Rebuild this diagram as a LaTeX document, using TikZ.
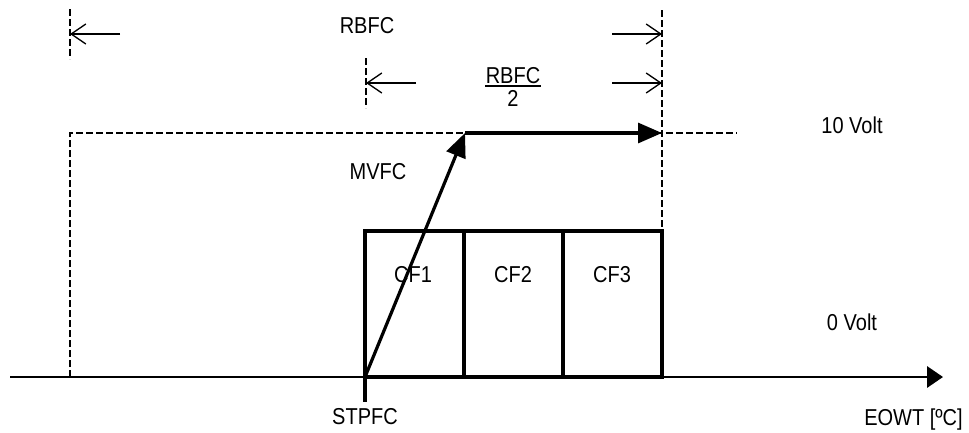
\documentclass[tikz,border=0pt]{standalone}
\usepackage{fontspec}
\setmainfont{Liberation Sans}
\usetikzlibrary{arrows.meta}
\newcommand\tallt[1]{\scalebox{1}[1.15]{#1}}
\begin{document}
\begin{tikzpicture}[x=0.75pt,y=-0.75pt,
  lbl/.style={font=\fontsize{15}{18}\selectfont, inner sep=0pt},
  dimline/.style={line width=0.8pt, -{Straight Barb[length=11pt,width=15pt,line width=1pt]}},
  dashln/.style={line width=1.5pt, dash pattern=on 5pt off 2.5pt},
  boxln/.style={line width=2.4pt},
  axisln/.style={line width=1.6pt, -{Triangle[length=12pt,width=16pt]}},
  bigarrow/.style={line width=2.4pt, -{Triangle[length=18pt,width=15pt]}},
]
\useasboundingbox (0,0) rectangle (969,432);

% coordinates
\coordinate (ax0) at (10,377);
\coordinate (ax1) at (943,377);
\coordinate (st) at (365,377);
\coordinate (stb) at (365,402);
\coordinate (b1) at (464,231);
\coordinate (b1b) at (464,377);
\coordinate (b2) at (563,231);
\coordinate (b2b) at (563,377);
\coordinate (btr) at (662,231);
\coordinate (top) at (465,133);
\coordinate (topr) at (662,133);
\coordinate (dl0) at (70,377);
\coordinate (dl1) at (737,133);
\coordinate (rv0) at (662,10);
\coordinate (lv0) at (70,9);
\coordinate (lv1) at (70,59);
\coordinate (mv0) at (366,58);
\coordinate (mv1) at (366,108);
\coordinate (a1s) at (120,34);
\coordinate (a1e) at (70,34);
\coordinate (a2s) at (612,34);
\coordinate (a2e) at (662,34);
\coordinate (a3s) at (416,83);
\coordinate (a3e) at (366,83);
\coordinate (a4s) at (612,83);
\coordinate (a4e) at (662,83);
\coordinate (fr0) at (485,86);
\coordinate (fr1) at (541,86);

% dashed lines
\draw[dashln] (dl0) |- (dl1);
\draw[dashln] (rv0) -- (btr);
\draw[dashln] (lv0) -- (lv1);
\draw[dashln] (mv0) -- (mv1);

% dimension arrows
\draw[dimline] (a1s) -- (a1e);
\draw[dimline] (a2s) -- (a2e);
\draw[dimline] (a3s) -- (a3e);
\draw[dimline] (a4s) -- (a4e);

% axis
\draw[axisln] (ax0) -- (ax1);

% boxes
\draw[boxln] (st) rectangle (btr);
\draw[boxln] (b1) -- (b1b);
\draw[boxln] (b2) -- (b2b);
\draw[boxln] (st) -- (stb);

% arrows
\draw[bigarrow] (st) -- (top);
\draw[bigarrow] (top) -- (topr);

% fraction bar
\draw[line width=0.9pt] (fr0) -- (fr1);

% labels
\node[lbl] (rbfc) at (367,26) {\tallt{RBFC}};
\node[lbl] (rbfcnum) at (513,76) {\tallt{RBFC}};
\node[lbl] (rbfcden) at (513,98) {\tallt{2}};
\node[lbl] (mvfc) at (378,172) {\tallt{MVFC}};
\node[lbl] (cf1) at (413,275) {\tallt{CF1}};
\node[lbl] (cf2) at (513,275) {\tallt{CF2}};
\node[lbl] (cf3) at (612,275) {\tallt{CF3}};
\node[lbl] (v10) at (852,125) {\tallt{10 Volt}};
\node[lbl] (v0) at (852,322) {\tallt{0 Volt}};
\node[lbl] (stpfc) at (365,417) {\tallt{STPFC}};
\node[lbl,anchor=east] (eowt) at (963,420) {\tallt{EOWT [ºC]}};
\end{tikzpicture}
\end{document}
